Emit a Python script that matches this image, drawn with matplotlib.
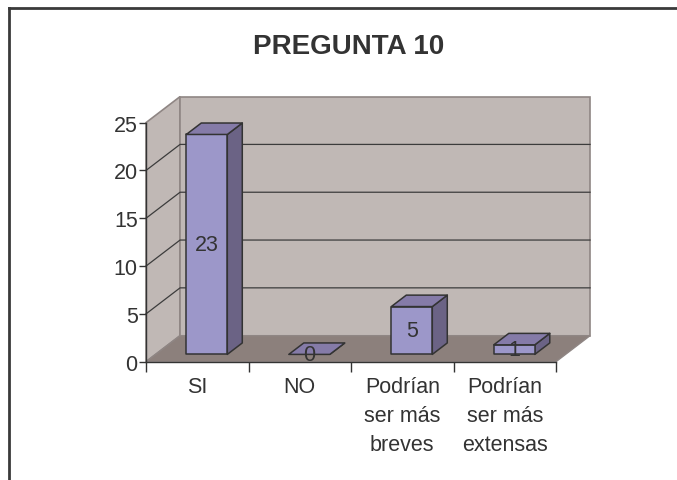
import matplotlib.pyplot as plt
from matplotlib.patches import Polygon
from matplotlib.lines import Line2D

plt.rcParams['font.family'] = ['Liberation Sans', 'DejaVu Sans']

categories = ['SI', 'NO', 'Podrían\nser más\nbreves', 'Podrían\nser más\nextensas']
values = [23, 0, 5, 1]
y_ticks = [0, 5, 10, 15, 20, 25]

wall = '#c0b8b5'
wall_edge = '#8f8684'
floor = '#8c807c'
front_c = '#9c97c9'
top_c = '#857ba8'
side_c = '#6b6385'
ink = '#333333'

fig = plt.figure(figsize=(6.77, 4.81), dpi=100, facecolor='w')
ax = fig.add_axes([0.2157, 0.246, 0.6056, 0.497])
ax.set_xlim(0, len(categories))
ax.set_ylim(0, 25)
ax.set_facecolor('none')

# depth of the 3d box, in data units
DX = 0.332
DY = 2.72
n = len(categories)

# walls and floor
ax.add_patch(Polygon([(0, 0), (DX, DY), (DX, 25 + DY), (0, 25)], closed=True,
                     fc=wall, ec=wall_edge, lw=1.2, clip_on=False, zorder=0))
ax.add_patch(Polygon([(DX, DY), (n + DX, DY), (n + DX, 25 + DY), (DX, 25 + DY)], closed=True,
                     fc=wall, ec=wall_edge, lw=1.2, clip_on=False, zorder=0))
ax.add_patch(Polygon([(0, 0), (n, 0), (n + DX, DY), (DX, DY)], closed=True,
                     fc=floor, ec=wall_edge, lw=1.0, clip_on=False, zorder=0.5))

for v in y_ticks[1:-1]:
    ax.plot([0, DX, n + DX], [v, v + DY, v + DY], color='#3c3c3c', lw=0.9,
            clip_on=False, zorder=1)

# bars
w = 0.4
d0, d1 = 0.28, 0.72
dd = d1 - d0
for i, v in enumerate(values):
    x0 = i + 0.5 - w / 2 + d0 * DX
    y0 = d0 * DY
    front = [(x0, y0), (x0 + w, y0), (x0 + w, y0 + v), (x0, y0 + v)]
    top = [(x0, y0 + v), (x0 + w, y0 + v), (x0 + w + dd * DX, y0 + v + dd * DY),
           (x0 + dd * DX, y0 + v + dd * DY)]
    side = [(x0 + w, y0), (x0 + w + dd * DX, y0 + dd * DY),
            (x0 + w + dd * DX, y0 + v + dd * DY), (x0 + w, y0 + v)]
    for pts, c in ((side, side_c), (front, front_c), (top, top_c)):
        ax.add_patch(Polygon(pts, closed=True, fc=c, ec=ink, lw=1.1,
                             clip_on=False, zorder=2, joinstyle='round'))
    ax.text(x0 + w / 2, y0 + v / 2, str(v), ha='center', va='center',
            fontsize=15.5, color=ink, zorder=3)

# axes
for s in ('top', 'right'):
    ax.spines[s].set_visible(False)
for s in ('left', 'bottom'):
    ax.spines[s].set_color(ink)
    ax.spines[s].set_linewidth(1.0)
    ax.spines[s].set_zorder(1.5)

ax.set_yticks(y_ticks)
ax.set_xticks(range(n + 1))
ax.set_xticklabels([])
ax.set_xticks([i + 0.5 for i in range(n)], minor=True)
ax.set_xticklabels(categories, minor=True, linespacing=1.5, va='top')
ax.tick_params(axis='y', direction='out', length=5, width=1, color=ink,
               labelsize=15.5, labelcolor=ink, pad=1)
ax.tick_params(axis='x', which='major', direction='out', length=7, width=1, color=ink)
ax.tick_params(axis='x', which='minor', length=0, labelsize=15.5, labelcolor=ink, pad=10)

fig.text(0.515, 0.903, 'PREGUNTA 10', ha='center', va='center', fontsize=20,
         fontweight='bold', color=ink)

# chart frame
fig.add_artist(Line2D([8.5 / 677, 1], [1 - 9 / 481, 1 - 9 / 481], color='#3a3a3a', lw=2))
fig.add_artist(Line2D([8.5 / 677, 8.5 / 677], [0, 1 - 9 / 481], color='#3a3a3a', lw=2))

fig.savefig('out.png', dpi=100)
